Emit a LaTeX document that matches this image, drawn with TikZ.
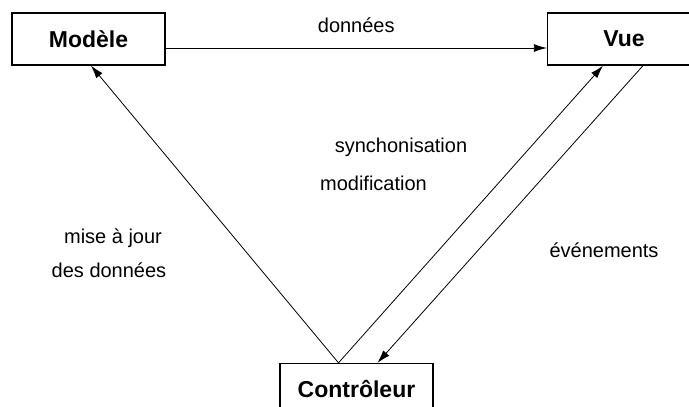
\documentclass[tikz,border=0pt]{standalone}
\usepackage{fontspec}
\setmainfont{Liberation Sans}
\usetikzlibrary{arrows.meta}
\begin{document}
\begin{tikzpicture}[x=1pt,y=-1pt,
  box/.style={draw,line width=1.3pt,minimum width=153pt,minimum height=52pt,
    inner sep=0pt,font=\fontsize{23}{26}\selectfont\bfseries},
  lbl/.style={font=\fontsize{20}{23}\selectfont,inner sep=0pt},
  conn/.style={line width=0.8pt,-{Latex[length=13pt,width=8pt]}}]
\useasboundingbox (0,0) rectangle (689,407);
\clip (0,0) rectangle (689,407);
\fill[white] (0,0) rectangle (689,407);
% the three components
\node[box] (modele) at (88.5,39) {Modèle};
\node[box] (vue) at (624,39) {Vue};
\node[box] (ctrl) at (356.5,389.5) {Contrôleur};
% attachment points on the box edges
\coordinate (mE) at ([yshift=-9pt]modele.east);
\coordinate (vW) at ([yshift=-9pt]vue.west);
\coordinate (mB) at ([xshift=2.5pt]modele.south);
\coordinate (vB1) at ([xshift=-21pt]vue.south);
\coordinate (vB2) at ([xshift=19pt]vue.south);
\coordinate (cT1) at ([xshift=-18pt]ctrl.north);
\coordinate (cT2) at ([xshift=21pt]ctrl.north);
% connectors
\draw[conn] (mE) -- node[lbl,above=15pt] {données} (vW);
\draw[conn] (cT1) -- (mB);
\draw[conn] (cT1) -- (vB1);
\draw[conn] (vB2) -- (cT2);
% labels
\node[lbl] (sync) at (401,147) {synchonisation};
\node[lbl] (modif) at (373.5,183) {modification};
\node[lbl] (maj1) at (113,238) {mise à jour};
\node[lbl] (maj2) at (109,270) {des données};
\node[lbl] (evt) at (604,250) {événements};
\end{tikzpicture}
\end{document}
